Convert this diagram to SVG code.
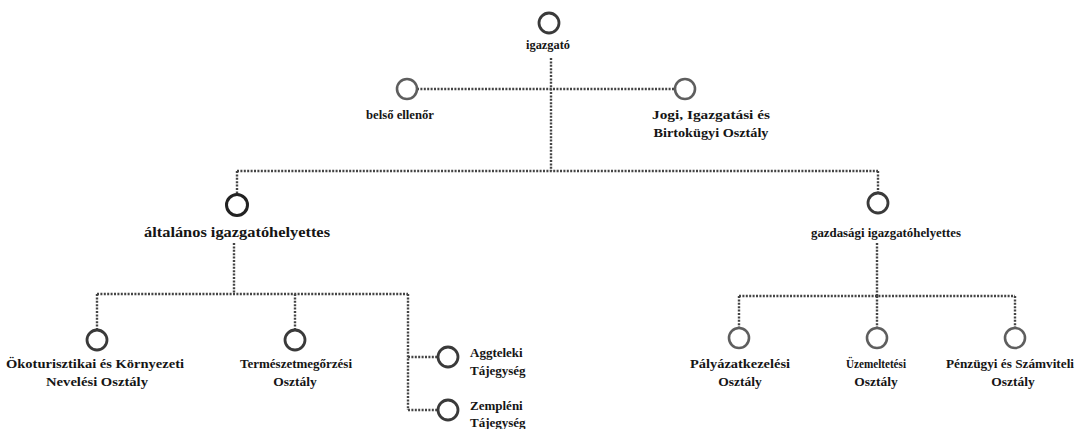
<svg xmlns="http://www.w3.org/2000/svg" width="1086" height="429" viewBox="0 0 1086 429">
<style>
.bg{fill:#fff}
.c{fill:#fff;stroke:#5e5e5e;stroke-width:2.6}
.cd{fill:#fff;stroke:#3a3a3a;stroke-width:2.8}
.ck{fill:#fff;stroke:#222;stroke-width:3}
.l{fill:none;stroke:#444;stroke-width:2.4;stroke-dasharray:2 1.4}
text{font-family:"Liberation Serif","DejaVu Serif",serif;font-weight:bold;font-size:13.5px;fill:#151515}
.m{text-anchor:middle}
.s{font-size:13px}
.b{font-size:14px}
</style>
<rect class="bg" x="0" y="0" width="1086" height="429"/>
<g id="connectors">
<path class="l" d="M551 58V171"/>
<path class="l" d="M417 89H675"/>
<path class="l" d="M237 171H878"/>
<path class="l" d="M237 171V194"/>
<path class="l" d="M878 171V192"/>
<path class="l" d="M234 243V294"/>
<path class="l" d="M97 294H408"/>
<path class="l" d="M97 294V329"/>
<path class="l" d="M295 294V329"/>
<path class="l" d="M408 294V410"/>
<path class="l" d="M408 357H438"/>
<path class="l" d="M408 410H438"/>
<path class="l" d="M877 243V296"/>
<path class="l" d="M739 296H1015"/>
<path class="l" d="M739 296V327"/>
<path class="l" d="M877 296V327"/>
<path class="l" d="M1015 296V327"/>
</g>
<g id="igazgato">
<circle class="cd" cx="549" cy="23" r="10"/>
<text class="m s" x="548" y="49" textLength="44" lengthAdjust="spacingAndGlyphs">igazgató</text>
</g>
<g id="belso-ellenor">
<circle class="c" cx="407" cy="89" r="10"/>
<text class="m" x="400" y="119" textLength="68" lengthAdjust="spacingAndGlyphs">belső ellenőr</text>
</g>
<g id="jogi">
<circle class="c" cx="685" cy="89" r="10"/>
<text class="m" x="711" y="119" textLength="118" lengthAdjust="spacingAndGlyphs">Jogi, Igazgatási  és</text>
<text class="m" x="711" y="137" textLength="115" lengthAdjust="spacingAndGlyphs">Birtokügyi Osztály</text>
</g>
<g id="altalanos">
<circle class="ck" cx="237" cy="205" r="10.5"/>
<text class="m b" x="237" y="237" textLength="186" lengthAdjust="spacingAndGlyphs">általános igazgatóhelyettes</text>
</g>
<g id="gazdasagi">
<circle class="cd" cx="878" cy="203" r="10"/>
<text class="m" x="886" y="237" textLength="150" lengthAdjust="spacingAndGlyphs">gazdasági  igazgatóhelyettes</text>
</g>
<g id="okoturisztikai">
<circle class="cd" cx="97" cy="340" r="10"/>
<text class="m" x="95" y="368" textLength="178" lengthAdjust="spacingAndGlyphs">Ökoturisztikai és Környezeti</text>
<text class="m" x="97" y="386" textLength="102" lengthAdjust="spacingAndGlyphs">Nevelési Osztály</text>
</g>
<g id="termeszetmegorzesi">
<circle class="cd" cx="295" cy="340" r="10"/>
<text class="m" x="296" y="368" textLength="112" lengthAdjust="spacingAndGlyphs">Természetmegőrzési</text>
<text class="m" x="295" y="386">Osztály</text>
</g>
<g id="aggteleki">
<circle class="cd" cx="448" cy="357" r="10"/>
<text class="s" x="470" y="357">Aggteleki</text>
<text class="s" x="470" y="375">Tájegység</text>
</g>
<g id="zempleni">
<circle class="cd" cx="448" cy="410" r="10"/>
<text class="s" x="470" y="410">Zempléni</text>
<text class="s" x="470" y="427">Tájegység</text>
</g>
<g id="palyazatkezelesi">
<circle class="c" cx="739" cy="338" r="10"/>
<text class="m" x="740" y="368" textLength="100" lengthAdjust="spacingAndGlyphs">Pályázatkezelési</text>
<text class="m" x="740" y="386">Osztály</text>
</g>
<g id="uzemeltetesi">
<circle class="c" cx="877" cy="338" r="10"/>
<text class="m s" x="876" y="368" textLength="60" lengthAdjust="spacingAndGlyphs">Üzemeltetési</text>
<text class="m" x="876" y="386">Osztály</text>
</g>
<g id="penzugyi">
<circle class="c" cx="1015" cy="338" r="10"/>
<text class="m" x="1010" y="368" textLength="128" lengthAdjust="spacingAndGlyphs">Pénzügyi és Számviteli</text>
<text class="m" x="1013" y="386">Osztály</text>
</g>
</svg>
